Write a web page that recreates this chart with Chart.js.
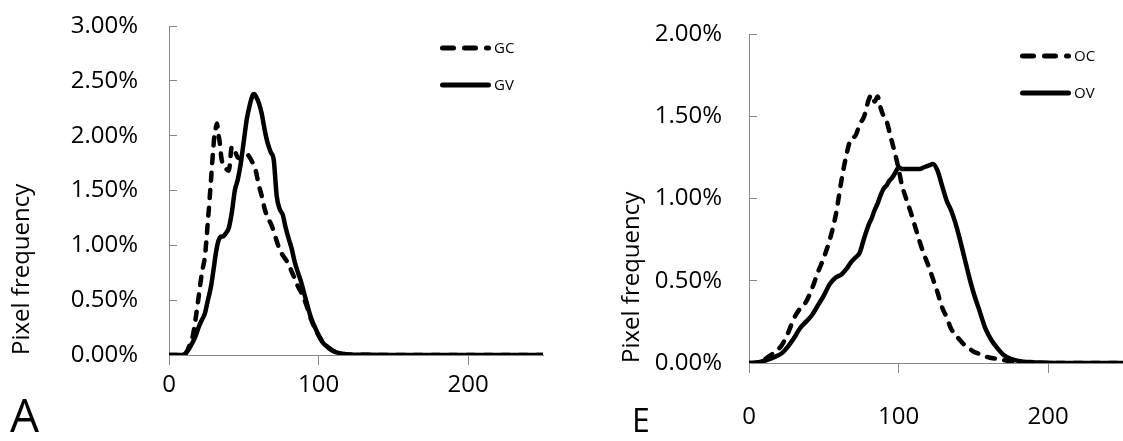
<!DOCTYPE html>
<html>
<head>
<meta charset="utf-8">
<script src="https://cdn.jsdelivr.net/npm/chart.js@4/dist/chart.umd.min.js"></script>
<style>
  body { margin: 0; background: #fff; }
  #page { position: relative; width: 1123px; height: 441px; overflow: hidden; background: #fff; }
  .panel { position: absolute; top: 0; }
  .tag { position: absolute; font-family: "Open Sans", sans-serif; line-height: 1; color: #000; }
</style>
</head>
<body>
<div id="page">
  <div class="panel" style="left:0"><canvas id="chartA" width="560" height="441"></canvas></div>
  <div class="panel" style="left:560px"><canvas id="chartE" width="563" height="441"></canvas></div>
  <div class="tag" style="left:10px;top:391px;font-size:46px">A</div>
  <div class="tag" style="left:632px;top:404px;font-size:32px">E</div>
</div>
<script>
// Panel A: grey level vs pixel frequency (%)
const xA = [0, 5, 8, 10, 12, 14, 16, 18, 20, 22, 24, 26, 28, 30, 31, 32, 33, 34, 35, 36,
  38, 40, 42, 44, 46, 48, 50, 52, 54, 56, 57, 58, 60, 62, 64, 66, 68, 70, 72, 74,
  76, 78, 80, 82, 84, 86, 88, 90, 92, 94, 96, 98, 100, 103, 106, 110, 115, 120, 130, 150,
  200, 250];
const gcA = [0, 0, 0, 0.005, 0.03, 0.1, 0.18, 0.35, 0.55, 0.75, 0.9, 1.22, 1.58, 1.95, 2.05, 2.11, 2.02, 1.93, 1.8, 1.74,
  1.7, 1.68, 1.9, 1.86, 1.8, 1.79, 1.82, 1.83, 1.8, 1.75, 1.72, 1.68, 1.55, 1.45, 1.33, 1.25, 1.2, 1.13, 1.04, 0.96,
  0.91, 0.87, 0.83, 0.76, 0.7, 0.63, 0.58, 0.52, 0.45, 0.36, 0.29, 0.23, 0.18, 0.11, 0.07, 0.035, 0.015, 0.005, 0.002, 0,
  0, 0];
const gvA = [0, 0, 0, 0.005, 0.03, 0.07, 0.12, 0.18, 0.26, 0.32, 0.38, 0.5, 0.62, 0.8, 0.9, 0.98, 1.04, 1.07, 1.08, 1.08,
  1.11, 1.16, 1.3, 1.5, 1.6, 1.75, 1.95, 2.15, 2.28, 2.37, 2.38, 2.36, 2.3, 2.2, 2.05, 1.93, 1.85, 1.78, 1.45, 1.33,
  1.28, 1.16, 1.06, 0.97, 0.85, 0.76, 0.68, 0.58, 0.48, 0.38, 0.3, 0.24, 0.18, 0.11, 0.075, 0.035, 0.015, 0.005, 0.002, 0,
  0, 0];

// Panel E
const xE = [0, 5, 10, 14, 18, 22, 26, 30, 34, 38, 42, 46, 50, 54, 58, 62, 65, 68, 71, 74,
  77, 80, 82, 84, 86, 88, 90, 92, 94, 96, 98, 100, 102, 105, 108, 111, 114, 117, 120, 123,
  126, 129, 132, 135, 138, 141, 144, 147, 150, 154, 158, 162, 166, 170, 175, 180, 190, 200, 225, 250];
const ocE = [0, 0.003, 0.02, 0.045, 0.07, 0.11, 0.18, 0.27, 0.33, 0.37, 0.45, 0.55, 0.64, 0.75, 0.9, 1.12, 1.26, 1.36, 1.38, 1.45,
  1.5, 1.6, 1.63, 1.59, 1.62, 1.55, 1.5, 1.47, 1.4, 1.33, 1.26, 1.18, 1.09, 1.0, 0.92, 0.83, 0.74, 0.66, 0.59, 0.51,
  0.43, 0.34, 0.28, 0.21, 0.17, 0.14, 0.11, 0.09, 0.07, 0.055, 0.04, 0.03, 0.025, 0.018, 0.01, 0.005, 0.002, 0, 0, 0];
const ovE = [0, 0.002, 0.012, 0.025, 0.04, 0.06, 0.1, 0.15, 0.21, 0.25, 0.29, 0.35, 0.41, 0.48, 0.52, 0.54, 0.57, 0.61, 0.64, 0.67,
  0.76, 0.84, 0.88, 0.93, 0.97, 1.02, 1.06, 1.08, 1.11, 1.13, 1.16, 1.19, 1.18, 1.18, 1.18, 1.18, 1.18, 1.19, 1.2, 1.21,
  1.17, 1.08, 0.99, 0.93, 0.85, 0.75, 0.64, 0.53, 0.43, 0.32, 0.21, 0.14, 0.09, 0.05, 0.025, 0.013, 0.005, 0.002, 0, 0];

const xTicks = [0, 100, 200];
const yMaxA = 3;
const yMaxE = 2;
const yStep = 0.5;

const FONT = '"Open Sans", sans-serif';
const AXIS = '#868686';

function pts(xs, ys) {
  return xs.map((x, i) => ({ x: x, y: ys[i] }));
}

function lineSet(label, xs, ys, dashed) {
  return {
    label: label,
    data: pts(xs, ys),
    borderColor: '#000',
    borderWidth: 4.5,
    borderDash: dashed ? [8, 9.5] : [],
    borderCapStyle: 'round',
    borderJoinStyle: 'round',
    pointRadius: 0,
    cubicInterpolationMode: 'monotone',
    fill: false
  };
}

// small legend inside the plot, top right
const lineLegend = {
  id: 'lineLegend',
  afterDatasetsDraw(chart, args, opts) {
    const ctx = chart.ctx;
    const area = chart.chartArea;
    ctx.save();
    chart.data.datasets.forEach((ds, i) => {
      const x0 = area.right + opts.dx;
      const y = area.top + opts.dy + i * opts.gap;
      ctx.beginPath();
      ctx.lineWidth = 5;
      ctx.lineCap = 'round';
      ctx.strokeStyle = ds.borderColor;
      ctx.setLineDash(ds.borderDash.length ? [11, 11] : []);
      ctx.moveTo(x0 + 2.5, y);
      ctx.lineTo(x0 + 48.5, y);
      ctx.stroke();
      ctx.setLineDash([]);
      ctx.fillStyle = '#000';
      ctx.font = '15px ' + FONT;
      ctx.textBaseline = 'middle';
      ctx.fillText(ds.label, x0 + 54, y + 1);
    });
    ctx.restore();
  }
};

function makeChart(id, sets, p) {
  const ctx = document.getElementById(id).getContext('2d');
  return new Chart(ctx, {
    type: 'line',
    data: { datasets: sets },
    plugins: [lineLegend],
    options: {
      responsive: false,
      animation: false,
      layout: { padding: { left: 0, top: p.top, right: p.right, bottom: 0 } },
      plugins: {
        legend: { display: false },
        tooltip: { enabled: false },
        lineLegend: { dx: -103, dy: 22, gap: 37 }
      },
      scales: {
        x: {
          type: 'linear',
          min: 0,
          max: 250,
          afterBuildTicks: (scale) => {
            scale.ticks = xTicks.map(v => ({ value: v }));
          },
          afterFit: (scale) => { scale.height = p.xHeight; },
          grid: { drawOnChartArea: false, drawTicks: true, tickLength: 10, color: AXIS, lineWidth: 1 },
          border: { display: true, color: AXIS, width: 1 },
          ticks: { color: '#000', font: { family: FONT, size: 24 }, padding: p.xPad, maxRotation: 0 }
        },
        y: {
          min: 0,
          max: p.yMax,
          afterFit: (scale) => {
            scale.width = p.yWidth;
            // big label gap should not push the plot down
            scale.paddingTop = 0;
            scale.paddingBottom = 0;
          },
          grid: { drawOnChartArea: false, drawTicks: true, tickLength: -8, color: AXIS, lineWidth: 1 },
          border: { display: true, color: AXIS, width: 1 },
          ticks: {
            stepSize: yStep,
            color: '#000',
            font: { family: FONT, size: 24 },
            padding: p.yPad,
            callback: (v) => v.toFixed(2) + '%'
          },
          title: {
            display: true,
            text: 'Pixel frequency',
            align: 'start',
            color: '#000',
            font: { family: FONT, size: 24 },
            padding: { top: p.titlePad, bottom: 0 }
          }
        }
      }
    }
  });
}

makeChart('chartA', [lineSet('GC', xA, gcA, true), lineSet('GV', xA, gvA, false)],
  { top: 26, right: 17, yWidth: 169, xHeight: 86, xPad: 6, yPad: 39, yMax: yMaxA, titlePad: 8 });

makeChart('chartE', [lineSet('OC', xE, ocE, true), lineSet('OV', xE, ovE, false)],
  { top: 34, right: 0, yWidth: 189, xHeight: 78, xPad: 30, yPad: 35, yMax: yMaxE, titlePad: 58 });
</script>
</body>
</html>
